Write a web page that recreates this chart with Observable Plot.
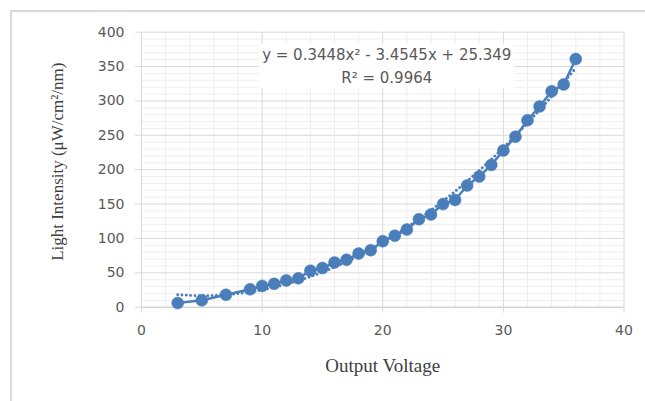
<!DOCTYPE html>
<html><head><meta charset="utf-8">
<script src="https://cdn.jsdelivr.net/npm/d3@7"></script>
<script src="https://cdn.jsdelivr.net/npm/@observablehq/plot@0.6"></script>
<style>
html,body{margin:0;padding:0;background:#fff;}
#chart{position:relative;width:645px;height:401px;overflow:hidden;}
#frame{position:absolute;left:10px;top:10px;right:-4px;bottom:-4px;border-top:2px solid #d9d9d9;border-left:2px solid #d9d9d9;pointer-events:none;}
</style></head><body><div id="chart"><div id="frame"></div></div>
<script>
const voltage   = [3, 5, 7, 9, 10, 11, 12, 13, 14, 15, 16, 17, 18, 19, 20, 21, 22, 23, 24, 25, 26, 27, 28, 29, 30, 31, 32, 33, 34, 35, 36];
const intensity = [6, 10, 18, 26, 31, 34, 39, 42, 53, 57, 65, 69, 78, 83, 96, 104, 113, 128, 135, 150, 156, 177, 190, 207, 228, 248, 272, 292, 314, 324, 361];
const trendCoef = [0.3448, -3.4545, 25.349];
const xTicks = [0, 10, 20, 30, 40];
const yTicks = [0, 50, 100, 150, 200, 250, 300, 350, 400];
const xMinor = [2, 4, 6, 8, 12, 14, 16, 18, 22, 24, 26, 28, 32, 34, 36, 38];
const yMinor = d3.range(10, 400, 10).filter(d => d % 50 !== 0);
const equationText = "y = 0.3448x² - 3.4545x + 25.349";
const r2Text = "R² = 0.9964";
const xTitle = "Output Voltage";
const yTitle = "Light Intensity (μW/cm²/nm)";

const blue = "#4a7ebb";
const data = voltage.map((v, i) => ({v, y: intensity[i]}));
const trend = voltage.map(v => ({v, y: trendCoef[0] * v * v + trendCoef[1] * v + trendCoef[2]}));

const chart = Plot.plot({
  width: 645, height: 401,
  marginLeft: 141, marginRight: 21.5, marginTop: 31.7, marginBottom: 94.3,
  style: {fontFamily: "DejaVu Sans", fontSize: "14px", color: "#595959", background: "transparent"},
  x: {domain: [0, 40]},
  y: {domain: [0, 400]},
  marks: [
    Plot.ruleX(xMinor, {stroke: "#eeeeee", strokeWidth: 1}),
    Plot.ruleY(yMinor, {stroke: "#eeeeee", strokeWidth: 1}),
    Plot.ruleX(xTicks, {stroke: "#d9d9d9", strokeWidth: 1}),
    Plot.ruleY(yTicks.filter(d => d > 0), {stroke: "#d9d9d9", strokeWidth: 1}),
    Plot.ruleY([0], {stroke: "#bfbfbf", strokeWidth: 1}),
    Plot.axisX({ticks: xTicks, tickSize: 6, tickPadding: 12, stroke: "#d9d9d9", fill: "#595959", label: null, fontSize: 14}),
    Plot.axisY({ticks: yTicks, tickSize: 6, tickPadding: 11, stroke: "#d9d9d9", fill: "#595959", label: null, fontSize: 14}),
    Plot.line(data, {x: "v", y: "y", stroke: blue, strokeWidth: 2.5}),
    Plot.line(trend, {x: "v", y: "y", stroke: blue, strokeWidth: 2.8, strokeDasharray: "0.1,4.2", strokeLinecap: "round", curve: "catmull-rom"}),
    Plot.dot(data, {x: "v", y: "y", r: 6, fill: blue, stroke: blue, strokeWidth: 0.5}),
    Plot.text([equationText], {frameAnchor: "top", dx: 4, dy: 23.3, lineAnchor: "middle", fontSize: 15, fill: "#595959", fontFamily: "DejaVu Sans"}),
    Plot.text([r2Text], {frameAnchor: "top", dx: 4, dy: 46.3, lineAnchor: "middle", fontSize: 15, fill: "#595959", fontFamily: "DejaVu Sans"}),
    Plot.text([xTitle], {frameAnchor: "bottom", dy: 58.3, lineAnchor: "middle", fontSize: 19, fill: "#404040", fontFamily: "Liberation Serif"}),
    Plot.text([yTitle], {frameAnchor: "left", textAnchor: "middle", rotate: -90, dx: -84, dy: -8, lineAnchor: "middle", fontSize: 17, fill: "#404040", fontFamily: "Liberation Serif"})
  ]
});
const host = document.getElementById("chart");
host.insertBefore(chart, host.firstChild);

// white label box behind the trendline equation
const texts = [...chart.querySelectorAll("text")].filter(t => t.textContent === equationText || t.textContent === r2Text);
if (texts.length) {
  const sr = chart.getBoundingClientRect();
  let x0 = Infinity, y0 = Infinity, x1 = -Infinity, y1 = -Infinity;
  texts.forEach(t => { const b = t.getBoundingClientRect(); x0 = Math.min(x0, b.left); y0 = Math.min(y0, b.top); x1 = Math.max(x1, b.right); y1 = Math.max(y1, b.bottom); });
  const rect = document.createElementNS("http://www.w3.org/2000/svg", "rect");
  rect.setAttribute("x", x0 - sr.left - 3);
  rect.setAttribute("y", y0 - sr.top - 2);
  rect.setAttribute("width", x1 - x0 + 6);
  rect.setAttribute("height", y1 - y0 + 3);
  rect.setAttribute("fill", "#ffffff");
  const g = texts[0].closest("g[aria-label]") || texts[0].parentNode;
  g.parentNode.insertBefore(rect, g);
}
</script>
</body></html>
